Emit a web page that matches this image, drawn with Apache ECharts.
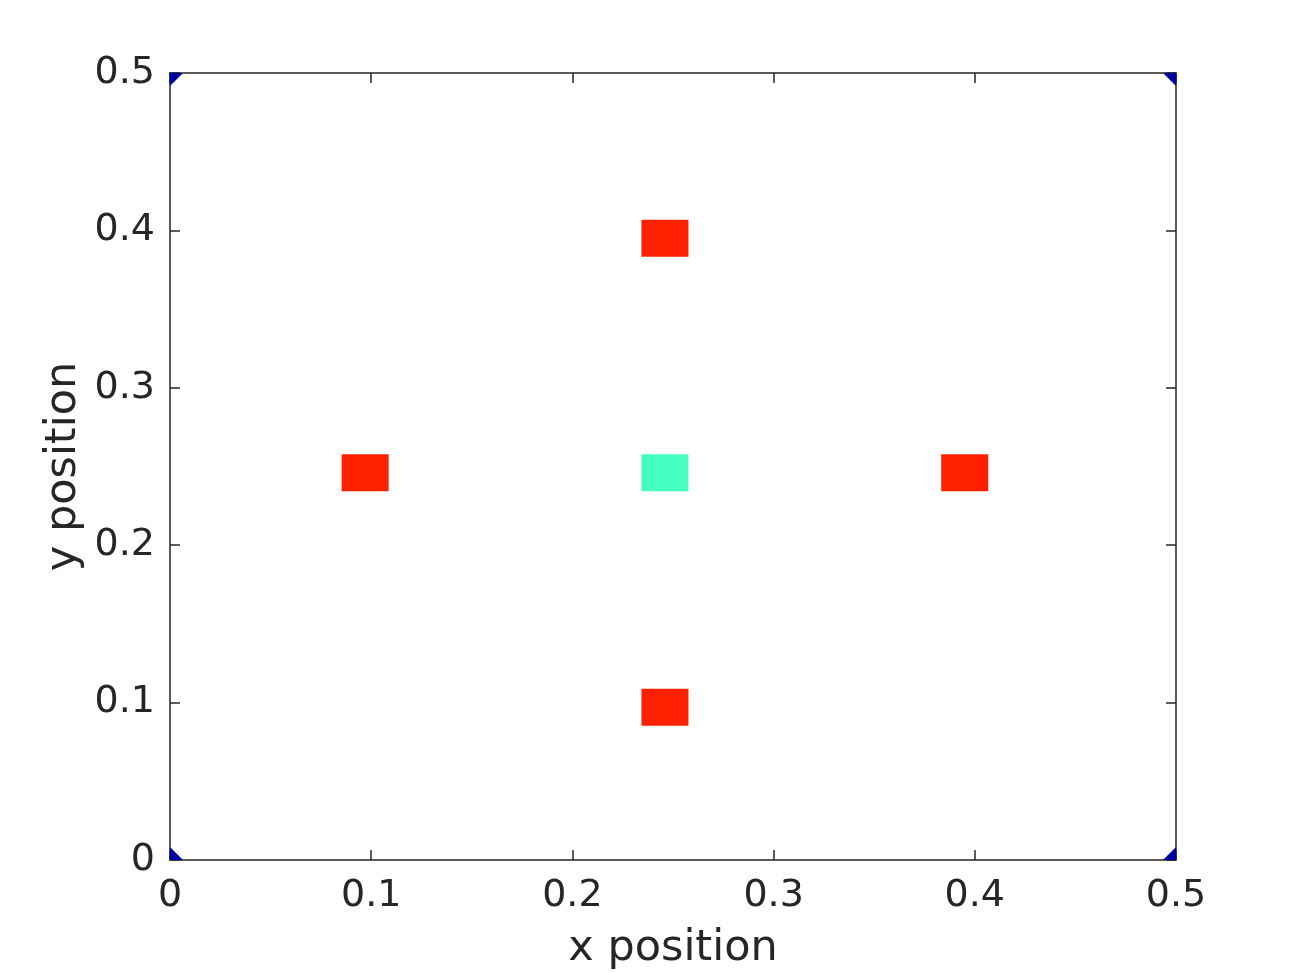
<!DOCTYPE html>
<html lang="en">
<head>
    <meta charset="UTF-8">
    <title>x / y position</title>
    <script src="https://cdn.jsdelivr.net/npm/echarts@6/dist/echarts.min.js"></script>
    <style>
        html, body { margin: 0; padding: 0; background: #fff; }
        #main { width: 1300px; height: 973px; }
    </style>
</head>
<body>
<div id="main"></div>
<script>
    // square cells (x, y, colour)
    var cellX = [0.097, 0.246, 0.246, 0.395, 0.246];
    var cellY = [0.246, 0.395, 0.246, 0.246, 0.097];
    var cellColor = ['#ff2000', '#ff2000', '#44ffc0', '#ff2000', '#ff2000'];
    // corner points (shown as clipped diamonds)
    var cornerX = [0, 0, 0.5, 0.5];
    var cornerY = [0, 0.5, 0, 0.5];

    var cellData = [];
    for (var i = 0; i < cellX.length; i++) {
        cellData.push({value: [cellX[i], cellY[i]], itemStyle: {color: cellColor[i], opacity: 1}});
    }
    var cornerData = [];
    for (var j = 0; j < cornerX.length; j++) {
        cornerData.push([cornerX[j], cornerY[j]]);
    }

    var axisColor = '#262626';
    var font = 'DejaVu Sans';

    function mainAxis(name, pos) {
        return {
            type: 'value', position: pos, min: 0, max: 0.5, interval: 0.1,
            name: name, nameLocation: 'middle',
            nameGap: pos === 'bottom' ? 67 : 85,
            nameMoveOverlap: pos === 'bottom',
            nameTextStyle: {color: axisColor, fontSize: 43, fontFamily: font},
            axisLine: {show: true, onZero: false, lineStyle: {color: axisColor, width: 1.5}},
            axisTick: {show: true, inside: true, length: 10, lineStyle: {color: axisColor, width: 1.5}},
            axisLabel: {color: axisColor, fontSize: 38, fontFamily: font, margin: pos === 'bottom' ? 17 : 15},
            splitLine: {show: false}
        };
    }
    function sideAxis(pos) {
        return {
            type: 'value', position: pos, min: 0, max: 0.5, interval: 0.1,
            axisLine: {show: true, onZero: false, lineStyle: {color: axisColor, width: 1.5}},
            axisTick: {show: true, inside: true, length: 10, lineStyle: {color: axisColor, width: 1.5}},
            axisLabel: {show: false},
            splitLine: {show: false}
        };
    }

    var chart = echarts.init(document.getElementById('main'));
    chart.setOption({
        backgroundColor: '#fff',
        animation: false,
        grid: {left: 170, right: 124, top: 73, bottom: 113, containLabel: false, outerBoundsMode: 'none'},
        xAxis: [mainAxis('x position', 'bottom'), sideAxis('top')],
        yAxis: [mainAxis('y position', 'left'), sideAxis('right')],
        series: [
            {
                type: 'scatter',
                symbol: 'rect',
                symbolSize: [47, 37],
                itemStyle: {opacity: 1},
                data: cellData
            },
            {
                type: 'custom',
                data: cornerData,
                renderItem: function (params, api) {
                    var c = api.coord([api.value(0), api.value(1)]);
                    var r = 13;
                    var pts = [[c[0] - r, c[1]], [c[0], c[1] - r], [c[0] + r, c[1]], [c[0], c[1] + r]];
                    pts = echarts.graphic.clipPointsByRect(pts, {
                        x: params.coordSys.x, y: params.coordSys.y,
                        width: params.coordSys.width, height: params.coordSys.height
                    });
                    return {
                        type: 'polygon',
                        shape: {points: pts},
                        style: {fill: '#0000a0'}
                    };
                }
            }
        ]
    });
</script>
</body>
</html>
